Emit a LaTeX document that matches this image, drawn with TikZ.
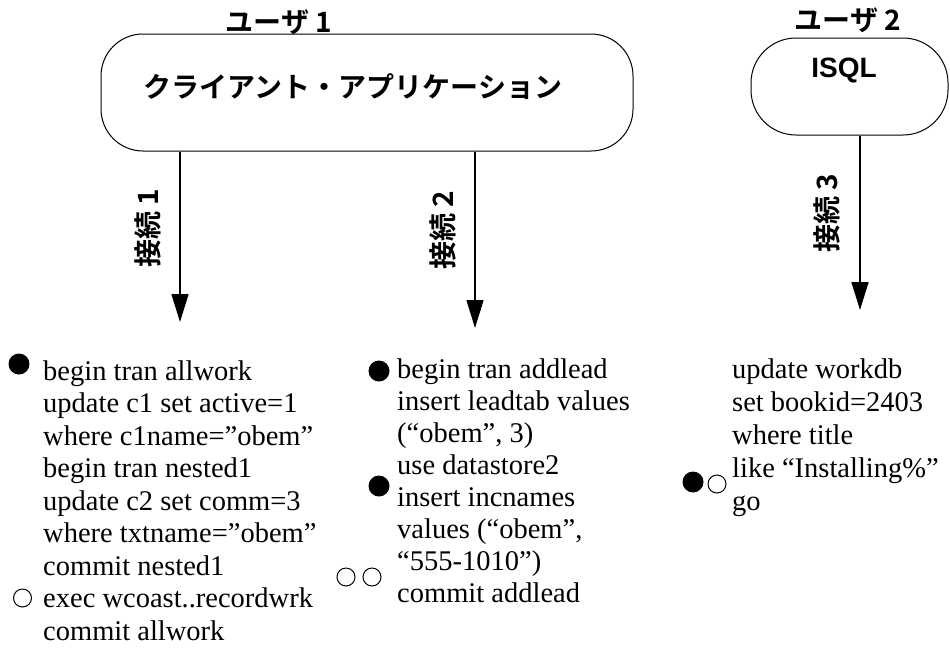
\documentclass[tikz,border=0pt]{standalone}
\usepackage{fontspec}
\setmainfont{Liberation Serif}
\newfontfamily\jpb{Noto Sans CJK JP}[UprightFont=* Bold]
\newfontfamily\arialb{Liberation Sans}[UprightFont=* Bold]
\usetikzlibrary{arrows.meta}
\begin{document}
\begin{tikzpicture}[x=1pt,y=-1pt,
  box/.style={draw, line width=1pt, inner sep=0pt},
  jp/.style={font=\jpb\fontsize{28}{30}\selectfont, inner sep=0pt},
  conn/.style={line width=1.5pt, -{Triangle[length=28pt,width=17pt]}},
  code/.style={anchor=base west, inner sep=0pt},
  full/.style={circle, fill, inner sep=0pt, minimum size=21pt},
  hollow/.style={circle, draw, line width=1pt, inner sep=0pt, minimum size=18pt}]
\useasboundingbox (0,0) rectangle (950,659);

% user 1
\node[box, rounded corners=42pt, minimum width=532pt, minimum height=117pt] (app) at (367,92.5) {};
\node[jp] (apptxt) at (353,87) {クライアント・アプリケーション};
\node[jp] (u1) at (279,22) {ユーザ 1};

% user 2
\node[box, rounded corners=45pt, minimum width=197pt, minimum height=97pt] (isql) at (849.5,86.5) {};
\node[inner sep=0pt, font=\arialb\fontsize{28}{30}\selectfont] (isqltxt) at (844,70) {ISQL};
\node[jp] (u2) at (848,20) {ユーザ 2};

% connections
\coordinate (e1) at (180,322);
\coordinate (e2) at (475,328);
\coordinate (e3) at (860,310);
\draw[conn] (app.south -| e1) -- (e1);
\draw[conn] (app.south -| e2) -- (e2);
\draw[conn] (isql.south -| e3) -- (e3);
\node[jp, rotate=90] (l1) at (148,228) {接続 1};
\node[jp, rotate=90] (l2) at (443,230) {接続 2};
\node[jp, rotate=90] (l3) at (827,213) {接続 3};

% code blocks
\node[code, font=\fontsize{28.5}{32.5}\selectfont] (t1) at (43,380) {\begin{tabular}[t]{@{}l@{}}
begin tran allwork\\
update c1 set active=1\\
where c1name=”obem”\\
begin tran nested1\\
update c2 set comm=3\\
where txtname=”obem”\\
commit nested1\\
exec wcoast..recordwrk\\
commit allwork
\end{tabular}};
\node[code, font=\fontsize{28.5}{32}\selectfont] (t2) at (397,378) {\begin{tabular}[t]{@{}l@{}}
begin tran addlead\\
insert leadtab values\\
(“obem”, 3)\\
use datastore2\\
insert incnames\\
values (“obem”,\\
“555-1010”)\\
commit addlead
\end{tabular}};
\node[code, font=\fontsize{28.5}{33}\selectfont] (t3) at (732,378) {\begin{tabular}[t]{@{}l@{}}
update workdb\\
set bookid=2403\\
where title\\
like “Installing\%”\\
go
\end{tabular}};

% markers
\node[full] (d1) at (19,364) {};
\node[hollow] (o1) at (22.5,598) {};
\node[full] (d2) at (379,371) {};
\node[full] (d3) at (379,486) {};
\node[hollow] (o2) at (346,577) {};
\node[hollow] (o3) at (372,577) {};
\node[full] (d4) at (693,482) {};
\node[hollow] (o4) at (717,484) {};
\end{tikzpicture}
\end{document}
